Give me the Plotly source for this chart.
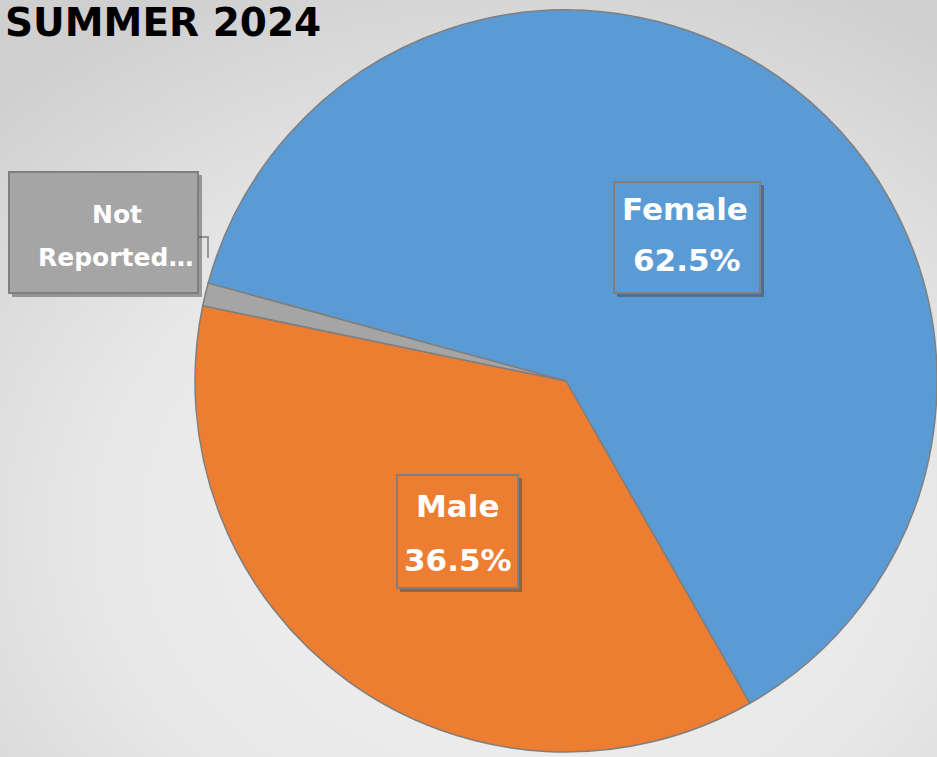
import base64
import plotly.graph_objects as go

# ---- data ----
categories = ["Female", "Male", "Not Reported"]
values = [62.5, 36.5, 1.0]
colors = ["#5B9BD5", "#ED7D31", "#A5A5A5"]
title_text = "SUMMER 2024"

W, H = 937, 757
FONT = "DejaVu Sans"

def px(x):
    return x / W

def py(y):
    return 1 - y / H

# background gradient (style only)
svg = f'''<svg xmlns="http://www.w3.org/2000/svg" width="{W}" height="{H}">
<defs><radialGradient id="g" cx="55%" cy="70%" r="80%">
<stop offset="0%" stop-color="#f1f1f1"/><stop offset="55%" stop-color="#e8e8e8"/><stop offset="100%" stop-color="#cfcfcf"/>
</radialGradient></defs>
<rect width="100%" height="100%" fill="url(#g)"/></svg>'''
bg_uri = "data:image/svg+xml;base64," + base64.b64encode(svg.encode()).decode()

fig = go.Figure()
fig.add_trace(go.Pie(
    labels=categories,
    values=values,
    sort=False,
    direction="clockwise",
    rotation=285.3,
    textinfo="none",
    hoverinfo="label+percent",
    marker=dict(colors=colors, line=dict(color="#7F7F7F", width=1.5)),
    domain=dict(x=[px(195), 1.0], y=[py(752), py(10)]),
    showlegend=False,
))

shapes = []
annotations = []

def box(x0, y0, x1, y1, fill):
    # shadow
    shapes.append(dict(type="rect", xref="paper", yref="paper",
                       x0=px(x0 + 3), x1=px(x1 + 4), y0=py(y1 + 4), y1=py(y0 + 3),
                       fillcolor="rgba(60,60,60,0.45)", line=dict(width=0), layer="above"))
    shapes.append(dict(type="rect", xref="paper", yref="paper",
                       x0=px(x0), x1=px(x1), y0=py(y1), y1=py(y0),
                       fillcolor=fill, line=dict(color="#7F7F7F", width=2), layer="above"))

def label(text, cx, cy, size):
    annotations.append(dict(text=f"<b>{text}</b>", xref="paper", yref="paper",
                            x=px(cx), y=py(cy), xanchor="center", yanchor="middle",
                            showarrow=False,
                            font=dict(family=FONT, size=size, color="white")))

# leader line for Not Reported
shapes.append(dict(type="path", xref="paper", yref="paper",
                   path=f"M {px(198)},{py(237)} L {px(208)},{py(237)} L {px(208)},{py(258)}",
                   line=dict(color="#7F7F7F", width=1.5), layer="above"))

box(614, 182, 760, 293, colors[0])
label(categories[0], 685, 209, 31)
label(f"{values[0]:.1f}%", 687, 260, 31)

box(397, 475, 518, 588, colors[1])
label(categories[1], 457, 506, 31)
label(f"{values[1]:.1f}%", 458, 560, 31)

box(9, 172, 198, 293, colors[2])
nr_words = categories[2].split(" ")
label(nr_words[0], 117, 214, 25)
label(nr_words[1] + "…", 115, 258, 25)

annotations.append(dict(text=f"<b>{title_text}</b>", xref="paper", yref="paper",
                        x=px(3), y=py(23), xanchor="left", yanchor="middle",
                        showarrow=False,
                        font=dict(family=FONT, size=39, color="black")))

fig.update_layout(
    width=W, height=H,
    margin=dict(l=0, r=0, t=0, b=0),
    paper_bgcolor="#e6e6e6",
    plot_bgcolor="rgba(0,0,0,0)",
    images=[dict(source=bg_uri, xref="paper", yref="paper", x=0, y=1,
                 sizex=1, sizey=1, sizing="stretch", layer="below",
                 xanchor="left", yanchor="top")],
    shapes=shapes,
    annotations=annotations,
)

fig.write_html("out.html",
               config={"displayModeBar": False},
               post_script="document.body.style.margin='0';document.body.style.overflow='hidden';")
